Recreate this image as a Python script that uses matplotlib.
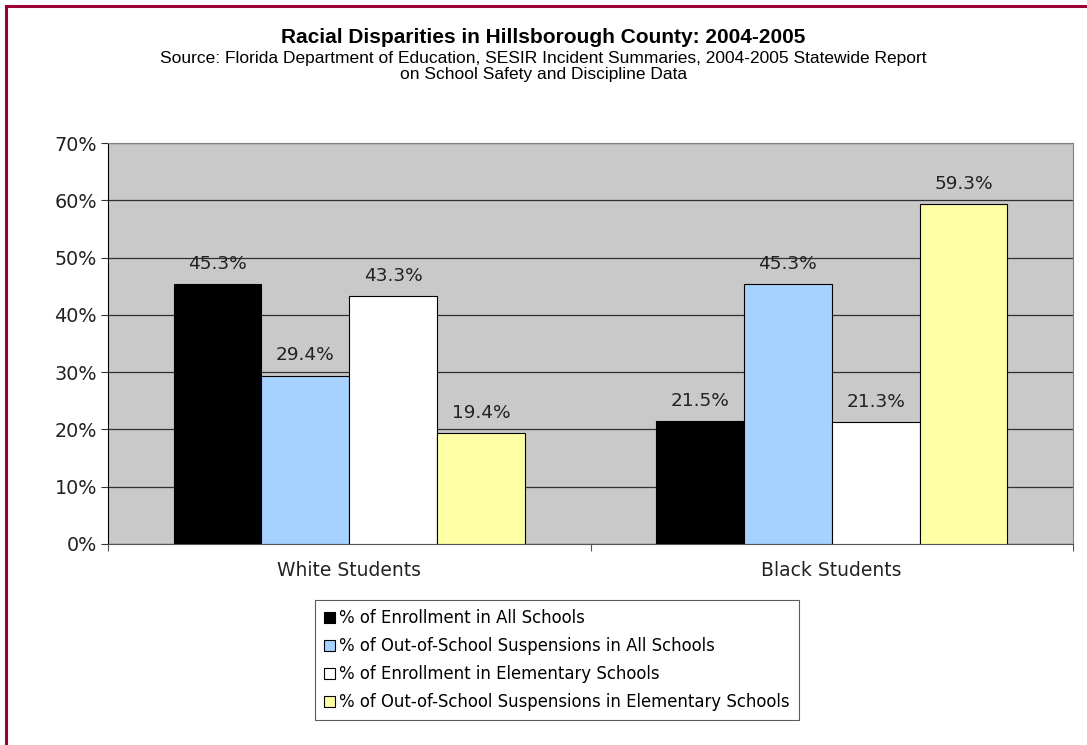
import numpy as np
import matplotlib
matplotlib.use("Agg")
import matplotlib.pyplot as plt
from matplotlib.lines import Line2D

# Data
groups = ["White Students", "Black Students"]
series_names = [
    "% of Enrollment in All Schools",
    "% of Out-of-School Suspensions in All Schools",
    "% of Enrollment in Elementary Schools",
    "% of Out-of-School Suspensions in Elementary Schools",
]
enroll_all = [45.3, 21.5]
susp_all = [29.4, 45.3]
enroll_elem = [43.3, 21.3]
susp_elem = [19.4, 59.3]
series_values = [enroll_all, susp_all, enroll_elem, susp_elem]
colors = ["#000000", "#A6D2FF", "#FFFFFF", "#FFFFA6"]
yticks = [0, 10, 20, 30, 40, 50, 60, 70]

fig = plt.figure(figsize=(10.87, 7.45), dpi=100)
ax = fig.add_axes([0.0994, 0.270, 0.8877, 0.538])

# bars
x = np.arange(len(groups))
width = 0.182
for i, (vals, col) in enumerate(zip(series_values, colors)):
    pos = x + (i - 1.5) * width
    ax.bar(pos, vals, width, color=col, edgecolor="black", linewidth=0.8,
           label=series_names[i], zorder=3)
    for p, v in zip(pos, vals):
        ax.annotate("%.1f%%" % v, (p, v), xytext=(0, 8), textcoords="offset points",
                    ha="center", va="bottom", fontsize=13.3, color="#222222",
                    family="DejaVu Sans")

ax.set_xlim(-0.5, 1.5)
ax.set_ylim(0, 70)
ax.set_facecolor("#C9C9C9")
ax.set_yticks(yticks)
ax.set_yticklabels(["%d%%" % t for t in yticks], fontsize=13.8, family="DejaVu Sans",
                   color="#222222")
ax.yaxis.grid(True, color="#303030", linewidth=0.9, zorder=1)
ax.set_axisbelow(True)

ax.set_xticks([-0.5, 0.5, 1.5], minor=False)
ax.set_xticklabels([])
ax.set_xticks(x, minor=True)
ax.set_xticklabels(groups, minor=True, fontsize=13.5, family="DejaVu Sans",
                   color="#222222")
ax.tick_params(axis="x", which="minor", length=0, pad=12)
ax.tick_params(axis="x", which="major", length=5, direction="out", color="#555555")
ax.tick_params(axis="y", length=5, direction="out", color="#333333", pad=3)

for s in ["top", "right"]:
    ax.spines[s].set_color("#808080")
ax.spines["left"].set_color("black")
ax.spines["bottom"].set_color("#555555")

# legend
leg = fig.legend(*ax.get_legend_handles_labels(), loc="upper left",
                 bbox_to_anchor=(0.2898, 0.1946), ncol=1,
                 prop={"family": "DejaVu Sans", "size": 11.9}, frameon=True,
                 fancybox=False, edgecolor="#333333", handlelength=0.65,
                 handleheight=0.65, handletextpad=0.25, borderpad=0.55,
                 labelspacing=0.6, borderaxespad=0)
leg.get_frame().set_linewidth(0.8)

# titles
fig.text(0.5, 0.949, "Racial Disparities in Hillsborough County: 2004-2005",
         ha="center", va="center", fontsize=15, fontweight="bold",
         family="Liberation Sans")
fig.text(0.5, 0.922,
         "Source: Florida Department of Education, SESIR Incident Summaries, 2004-2005 Statewide Report",
         ha="center", va="center", fontsize=12.5, family="Liberation Sans")
fig.text(0.5, 0.900, "on School Safety and Discipline Data",
         ha="center", va="center", fontsize=12.5, family="Liberation Sans")

# maroon frame on top and left
fig.add_artist(Line2D([0.0055, 1.0], [0.9925, 0.9925], color="#990033", linewidth=2.2,
                      transform=fig.transFigure))
fig.add_artist(Line2D([0.0055, 0.0055], [0.0, 0.9925], color="#990033", linewidth=2.2,
                      transform=fig.transFigure))

fig.savefig("out.png", dpi=100)
